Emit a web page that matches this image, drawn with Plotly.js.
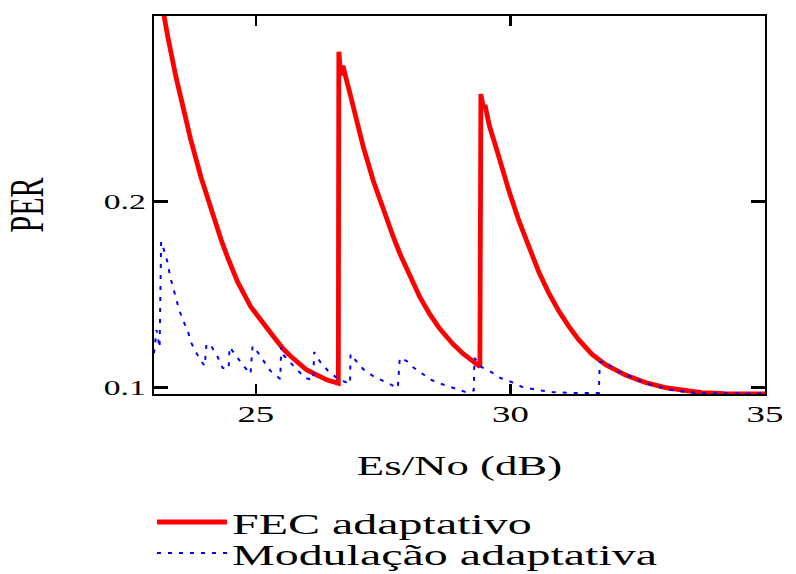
<!DOCTYPE html>
<html>
<head>
<meta charset="utf-8">
<script src="https://cdn.plot.ly/plotly-3.0.1.min.js"></script>
<style>
  html, body { margin: 0; padding: 0; background: #ffffff; }
  #chart { width: 796px; height: 574px; }
  /* the reference text is rendered horizontally stretched */
  #chart g.xtick, #chart g.ytick, #chart g.g-xtitle, #chart g.g-ytitle {
    transform-box: fill-box; transform-origin: center; transform: scaleX(1.6);
  }
  #chart text.legendtext, #chart text.legend2text {
    transform-box: fill-box; transform-origin: 0% 50%; transform: scaleX(1.6);
  }
  #chart g.scrollbox { clip-path: none !important; }
</style>
</head>
<body>
<div id="chart"></div>
<script>
// ---- data ----
const seriesNames = ['FEC adaptativo', 'Modulação adaptativa'];

const fecX = [23.10, 23.19, 23.27, 23.43, 23.59, 23.72, 23.92, 24.11, 24.32, 24.44, 24.64, 24.90, 25.14, 25.35, 25.55, 25.68, 26.00, 26.26, 26.39, 26.62,
              26.63, 26.67, 26.71, 26.85, 26.98, 27.11, 27.31, 27.50, 27.70, 27.83, 28.02, 28.22, 28.41, 28.61, 28.87, 29.06, 29.33, 29.40,
              29.42, 29.47, 29.50, 29.59, 29.72, 29.85, 29.98, 30.17, 30.37, 30.56, 30.76, 30.95, 31.15, 31.34, 31.60, 31.87, 32.26, 32.65,
              33.04, 33.43, 33.76, 34.21, 35.00];
const fecY = [0.3150, 0.3004, 0.2887, 0.2672, 0.2480, 0.2335, 0.2134, 0.1965, 0.1794, 0.1705, 0.1570, 0.1435, 0.1346, 0.1274, 0.1205, 0.1170, 0.1095, 0.1059, 0.1042, 0.1024,
              0.2806, 0.2680, 0.2730, 0.2580, 0.2435, 0.2295, 0.2110, 0.1955, 0.1810, 0.1720, 0.1600, 0.1488, 0.1398, 0.1318, 0.1235, 0.1185, 0.1128, 0.1113,
              0.2578, 0.2500, 0.2520, 0.2405, 0.2290, 0.2165, 0.2050, 0.1895, 0.1745, 0.1620, 0.1505, 0.1412, 0.1328, 0.1258, 0.1180, 0.1124, 0.1068, 0.1028,
              0.1000, 0.0982, 0.0973, 0.0968, 0.0967];

const modX = [23.00, 23.05, 23.11, 23.14, 23.215, 23.274, 23.313, 23.371, 23.430, 23.489, 23.567, 23.664, 23.723, 23.821, 23.938, 23.997,
              24.03, 24.114, 24.251, 24.348, 24.466, 24.485, 24.642, 24.759, 24.896, 24.935, 25.032, 25.189, 25.287, 25.48,
              25.50, 25.541, 25.677, 25.814, 25.971, 26.127, 26.146, 26.264, 26.420, 26.615, 26.85,
              26.86, 26.987, 27.104, 27.299, 27.573, 27.788, 27.827, 27.964, 28.081, 28.257, 28.452, 28.648, 28.882, 29.117, 29.28,
              29.293, 29.430, 29.625, 29.801, 30.016, 30.231, 30.524, 30.817, 31.110, 31.462, 31.736,
              31.755, 31.872, 32.06, 32.26, 32.45, 32.65, 32.91, 33.15, 33.43, 33.72, 34.08, 34.43, 34.73, 35.00];
const modY = [0.1185, 0.1310, 0.1215, 0.1785, 0.1724, 0.1665, 0.1601, 0.1541, 0.1482, 0.1423, 0.1364, 0.1305, 0.1246, 0.1192, 0.1138, 0.1117,
              0.1235, 0.1229, 0.1165, 0.1106, 0.1101, 0.1219, 0.1160, 0.1117, 0.1074, 0.1224, 0.1192, 0.1127, 0.1090, 0.1047,
              0.1219, 0.1176, 0.1133, 0.1095, 0.1052, 0.1041, 0.1192, 0.1138, 0.1090, 0.1047, 0.1020,
              0.1181, 0.1138, 0.1101, 0.1063, 0.1025, 0.0998, 0.1160, 0.1143, 0.1111, 0.1079, 0.1041, 0.1020, 0.1000, 0.0977, 0.0985,
              0.1160, 0.1111, 0.1084, 0.1052, 0.1031, 0.1004, 0.0988, 0.0977, 0.0972, 0.0972, 0.0972,
              0.1138, 0.1137, 0.1095, 0.1072, 0.1047, 0.1024, 0.1005, 0.0988, 0.0977, 0.0970, 0.0970, 0.0970, 0.0967, 0.0967];

const xTickVals = [25, 30, 35];
const xTickText = ['25', '30', '35'];
const yTickVals = [0.1, 0.2];
const yTickText = ['0.1', '0.2'];
const xTitle = 'Es/No (dB)';
const yTitle = 'PER';

// ---- chart ----
const serif = 'Liberation Serif, Times New Roman, serif';

const traces = [
  { x: fecX, y: fecY, name: seriesNames[0], type: 'scatter', mode: 'lines',
    line: { color: '#ff0000', width: 4.8 }, legend: 'legend' },
  { x: modX, y: modY, name: seriesNames[1], type: 'scatter', mode: 'lines',
    line: { color: '#0000ff', width: 2, dash: '4px,7px' }, legend: 'legend2' }
];

const axisCommon = {
  showline: true, linecolor: '#000000', linewidth: 2, mirror: 'allticks',
  ticks: 'inside', tickcolor: '#000000', tickwidth: 2.5,
  showgrid: false, zeroline: false, fixedrange: true
};

const legendCommon = {
  x: -0.0033, xanchor: 'left', yanchor: 'middle',
  bgcolor: 'rgba(0,0,0,0)', borderwidth: 0,
  font: { family: serif, size: 30, color: '#000000' },
  itemwidth: 70
};

const layout = {
  width: 796, height: 574,
  margin: { l: 154, r: 31, t: 16, b: 180, pad: 0, autoexpand: false },
  paper_bgcolor: '#ffffff', plot_bgcolor: '#ffffff',
  showlegend: true,
  xaxis: Object.assign({}, axisCommon, {
    range: [23, 35], tickvals: xTickVals, ticktext: xTickText, ticklen: 10,
    tickfont: { family: serif, size: 23, color: '#000000' },
    ticklabelstandoff: -2,
    title: { text: xTitle, font: { family: serif, size: 28, color: '#000000' }, standoff: 30 }
  }),
  yaxis: Object.assign({}, axisCommon, {
    range: [0.0966, 0.2998], tickvals: yTickVals, ticktext: yTickText, ticklen: 14,
    tickfont: { family: serif, size: 21, color: '#000000' },
    ticklabelstandoff: 10,
    title: { text: yTitle, font: { family: serif, size: 30, color: '#000000' }, standoff: 65 }
  }),
  legend: Object.assign({}, legendCommon, { y: -0.3386 }),
  legend2: Object.assign({}, legendCommon, { y: -0.4206 })
};

Plotly.newPlot('chart', traces, layout, { staticPlot: true, displayModeBar: false });
</script>
</body>
</html>
